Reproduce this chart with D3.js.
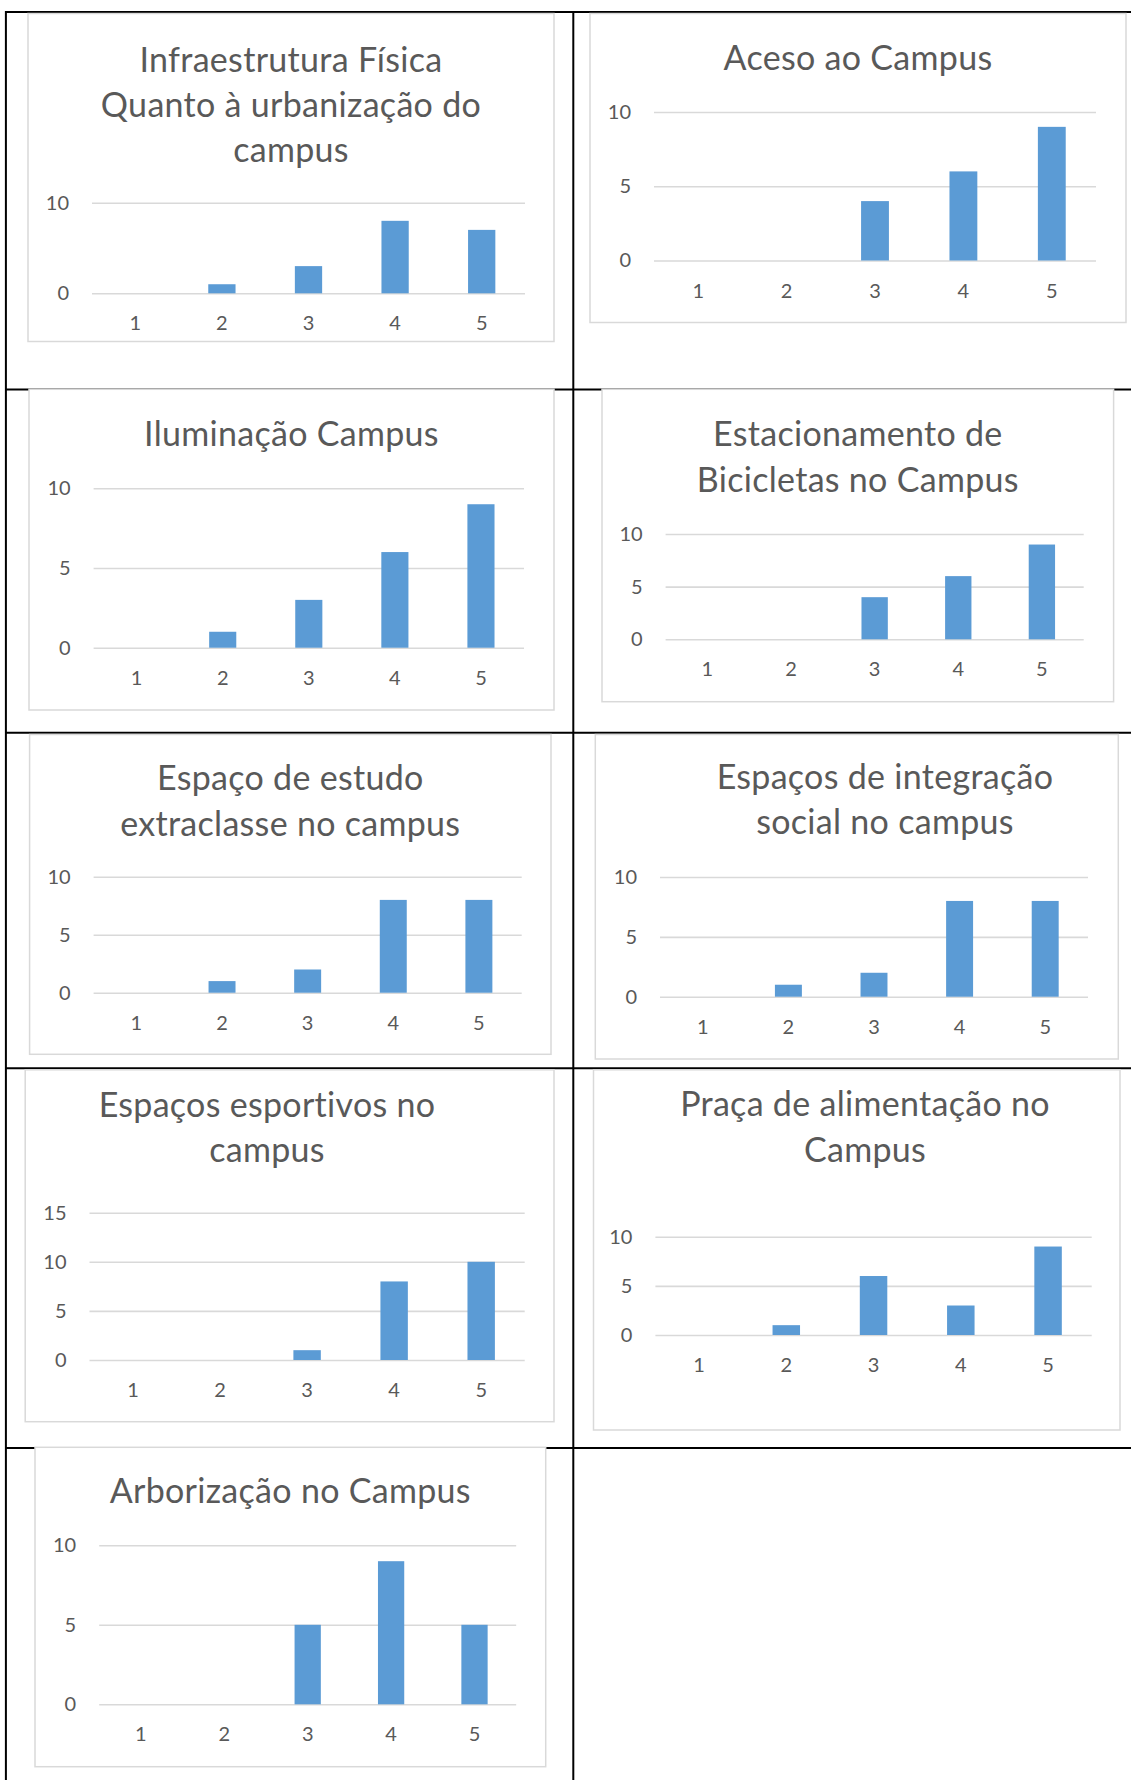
<!DOCTYPE html>
<html><head><meta charset="utf-8">
<script src="https://cdn.jsdelivr.net/npm/d3@7"></script>
<style>
html,body{margin:0;padding:0;background:#fff;}
svg{display:block;}
text{font-family:Lato,"Open Sans",sans-serif;}
</style></head>
<body>
<svg id="c" width="1131" height="1780"></svg>
<script>
// ---------- data ----------
const categories = ["1", "2", "3", "4", "5"];

const titles = [
  ["Infraestrutura Física", "Quanto à urbanização do", "campus"],
  ["Aceso ao Campus"],
  ["Iluminação Campus"],
  ["Estacionamento de", "Bicicletas no Campus"],
  ["Espaço de estudo", "extraclasse no campus"],
  ["Espaços de integração", "social no campus"],
  ["Espaços esportivos no", "campus"],
  ["Praça de alimentação no", "Campus"],
  ["Arborização no Campus"]
];

const infraestrutura = [0, 1, 3, 8, 7];
const acesso         = [0, 0, 4, 6, 9];
const iluminacao     = [0, 1, 3, 6, 9];
const estacionamento = [0, 0, 4, 6, 9];
const estudo         = [0, 1, 2, 8, 8];
const integracao     = [0, 1, 2, 8, 8];
const esportivos     = [0, 0, 1, 8, 10];
const alimentacao    = [0, 1, 6, 3, 9];
const arborizacao    = [0, 0, 5, 9, 5];
const seriesList = [infraestrutura, acesso, iluminacao, estacionamento, estudo, integracao, esportivos, alimentacao, arborizacao];

const ticks10a = [0, 10];
const ticks10  = [0, 5, 10];
const ticks15  = [0, 5, 10, 15];
const tickSets = [ticks10a, ticks10, ticks10, ticks10, ticks10, ticks10, ticks15, ticks10, ticks10];

// ---------- layout (positions only) ----------
const layout = [
  {box:[28,13.5,554,341.5],     plot:[92,525,293.3,202.7],    tx:291, ty:[71.7,117.3,161.7]},
  {box:[590,13.5,1126,322.5],   plot:[654,1096,260.5,112],    tx:858, ty:[70]},
  {box:[29,389.3,554,710],      plot:[93.6,524,647.7,488.3],  tx:291.5, ty:[445.7]},
  {box:[602,389.3,1113.6,701.7],plot:[665.6,1083.7,639.3,534],tx:857.8, ty:[445.7,491.7]},
  {box:[29.6,734.5,551,1054.3], plot:[93.6,521.7,992.7,876.7],tx:290.3, ty:[790,836]},
  {box:[595.3,734.5,1118.3,1059],plot:[660,1088,996.7,877],   tx:885, ty:[789,834.3]},
  {box:[25.2,1069.8,554,1421.7],plot:[89.5,524.7,1360,1212.7],tx:267, ty:[1116.7,1161.7]},
  {box:[593.5,1069.8,1120,1430],plot:[655.4,1091.7,1335,1236.7],tx:865, ty:[1116,1161.7]},
  {box:[35,1447.3,545.7,1766.7],plot:[99.2,516.2,1704.3,1545.3],tx:290.3, ty:[1503.3]}
];

const svg = d3.select("#c");
const W = 1131, H = 1780;

// ---------- table lines ----------
const tbl = svg.append("g").attr("stroke","#000").attr("stroke-width",2);
tbl.append("line").attr("x1",5).attr("x2",W).attr("y1",12).attr("y2",12);
[389.5, 732.7, 1068.2, 1448].forEach(y =>
  tbl.append("line").attr("x1",5).attr("x2",W).attr("y1",y).attr("y2",y));
[5.9, 573.3].forEach(x =>
  tbl.append("line").attr("x1",x).attr("x2",x).attr("y1",11).attr("y2",H));

// ---------- panels ----------
layout.forEach((L, i) => {
  const g = svg.append("g");
  const [bx0, by0, bx1, by1] = L.box;
  g.append("rect").attr("x",bx0).attr("y",by0).attr("width",bx1-bx0).attr("height",by1-by0)
    .attr("fill","#fff").attr("stroke","#d9d9d9").attr("stroke-width",1.5);

  g.selectAll("text.title").data(titles[i]).enter().append("text")
    .attr("class","title")
    .attr("x",L.tx).attr("y",(d,j)=>L.ty[j])
    .attr("text-anchor","middle")
    .attr("font-size",34).attr("letter-spacing",0.3).attr("fill","#595959")
    .text(d=>d);

  const [px0, px1, yBase, yTop] = L.plot;
  const ticks = tickSets[i];
  const yMax = ticks[ticks.length-1];
  const y = d3.scaleLinear().domain([0, yMax]).range([yBase, yTop]);
  const x = d3.scaleBand().domain(categories).range([px0, px1]).paddingInner(0.685).paddingOuter(0.3425);

  const ya = g.append("g").attr("transform",`translate(${px0},0)`)
    .call(d3.axisLeft(y).tickValues(ticks).tickSize(-(px1-px0)).tickPadding(23).tickFormat(d3.format("d")));
  ya.select(".domain").remove();
  ya.selectAll(".tick line").attr("stroke","#d9d9d9").attr("stroke-width",1.6);
  ya.selectAll(".tick text").attr("fill","#595959").attr("font-size",20).attr("font-family","Lato, sans-serif");

  g.append("g").selectAll("rect").data(seriesList[i]).enter().append("rect")
    .attr("x",(d,j)=>x(categories[j]))
    .attr("width",x.bandwidth())
    .attr("y",d=>y(d))
    .attr("height",d=>yBase - y(d))
    .attr("fill","#5b9bd5");

  const xa = g.append("g").attr("transform",`translate(0,${yBase})`)
    .call(d3.axisBottom(x).tickSize(0).tickPadding(23));
  xa.select(".domain").remove();
  xa.selectAll(".tick text").attr("fill","#595959").attr("font-size",20).attr("font-family","Lato, sans-serif");
});
</script>
</body></html>
